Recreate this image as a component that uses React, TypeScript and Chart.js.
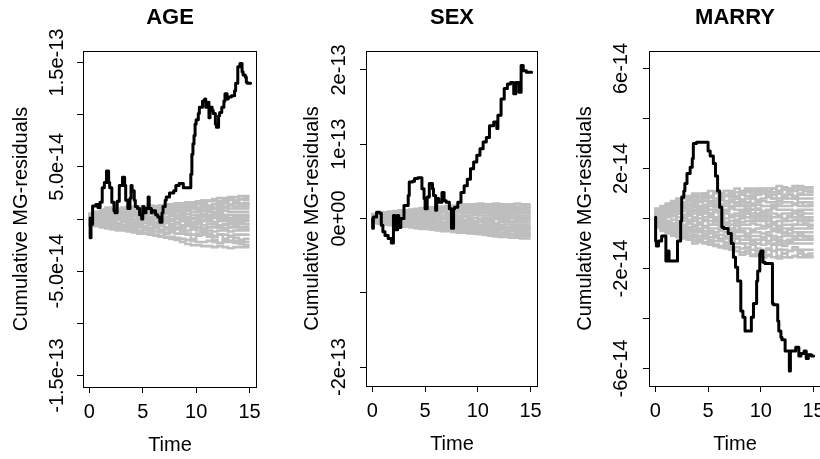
import React, { useEffect, useRef } from "react";
import { Chart, registerables } from "chart.js";
Chart.register(...registerables);

// values are stored in units of 1e-14
const UNIT = 1e-14;
const X_TICKS = [0, 5, 10, 15];
const X_TICK_LABELS = ["0", "5", "10", "15"];
const X_LABEL = "Time";
const Y_LABEL = "Cumulative MG-residuals";

const GRAY_TIMES = [0, 0.5, 1, 1.5, 2, 2.5, 3, 3.5, 4, 4.5, 5, 5.5, 6, 6.5, 7, 7.5, 8, 8.5, 9, 9.5, 10, 10.5, 11, 11.5, 12, 12.5, 13, 13.5, 14, 14.5, 15];

// ---------- AGE ----------
const AGE_TIMES = [0.07, 0.15, 0.3, 0.6, 0.8, 1.0, 1.2, 1.4, 1.6, 1.8, 1.9, 2.1, 2.3, 2.4, 2.6, 2.8, 3.1, 3.3, 3.4, 3.6, 3.8, 3.9, 4.0, 4.2, 4.3, 4.5, 4.7, 4.9, 5.0, 5.1, 5.3, 5.5, 5.6, 5.8, 5.9, 6.2, 6.4, 6.6, 6.8, 6.9, 7.1, 7.2, 7.5, 7.9, 8.1, 8.4, 8.8, 9.1, 9.5, 9.6, 9.7, 9.8, 9.9, 10.0, 10.2, 10.3, 10.6, 10.8, 10.9, 11.1, 11.2, 11.3, 11.5, 11.6, 11.8, 11.9, 12.1, 12.2, 12.4, 12.6, 12.7, 12.9, 13.0, 13.3, 13.6, 13.7, 13.9, 14.1, 14.3, 14.4, 14.6, 14.7, 14.8, 15.1];
const AGE_OBS = [0.1, -1.8, -0.5, 1.25, 1.4, 1.1, 1.6, 3.0, 3.5, 4.6, 3.5, 3.0, 1.6, 0.8, 0.6, 1.7, 3.2, 4.0, 3.2, 1.8, 1.0, 2.0, 3.2, 2.7, 1.8, 1.2, 1.0, 0.4, 0.0, 1.2, 0.6, 1.0, 2.1, 1.0, 0.6, 0.8, 0.4, 0.2, -0.3, 0.6, 1.2, 1.8, 2.1, 2.5, 2.7, 3.2, 3.4, 3.0, 3.0, 4.3, 6.2, 7.2, 8.0, 9.1, 9.5, 10.1, 10.7, 11.3, 11.5, 10.7, 11.2, 9.7, 10.7, 10.4, 10.1, 9.1, 8.8, 9.9, 10.2, 10.7, 11.3, 12.0, 11.5, 11.7, 11.8, 12.3, 13.0, 14.6, 14.9, 14.1, 13.8, 13.6, 13.1, 13.0];
const AGE_SIMS = [
  [0, 0.3, 0.5, 0.6, 0.6, 0.8, 0.9, 0.9, 1.0, 1.1, 1.1, 1.2, 1.3, 1.2, 1.3, 1.4, 1.4, 1.5, 1.5, 1.6, 1.6, 1.7, 1.8, 1.8, 1.9, 2.0, 2.0, 2.1, 2.1, 2.2, 2.2],
  [0, 0.5, 0.7, 0.8, 0.9, 0.9, 1.0, 1.1, 1.0, 1.1, 1.2, 1.2, 1.1, 1.2, 1.3, 1.3, 1.4, 1.4, 1.5, 1.5, 1.5, 1.6, 1.6, 1.7, 1.7, 1.7, 1.8, 1.8, 1.8, 1.9, 1.8],
  [0, 0.4, 0.6, 0.7, 0.8, 0.8, 0.9, 1.0, 1.0, 1.1, 1.0, 1.1, 1.1, 1.2, 1.2, 1.1, 1.2, 1.3, 1.3, 1.2, 1.3, 1.4, 1.4, 1.3, 1.4, 1.5, 1.5, 1.4, 1.5, 1.5, 1.5],
  [0, 0.2, 0.4, 0.6, 0.7, 0.7, 0.8, 0.8, 0.9, 0.9, 1.0, 0.9, 1.0, 1.0, 1.1, 1.0, 1.0, 1.1, 1.1, 1.2, 1.1, 1.1, 1.2, 1.2, 1.1, 1.2, 1.2, 1.3, 1.2, 1.2, 1.2],
  [0, 0.3, 0.5, 0.5, 0.6, 0.7, 0.7, 0.6, 0.7, 0.8, 0.8, 0.9, 0.8, 0.8, 0.9, 0.9, 1.0, 0.9, 0.9, 1.0, 1.0, 0.9, 1.0, 1.1, 1.0, 1.0, 1.1, 1.0, 1.0, 1.0, 1.0],
  [0, 0.4, 0.4, 0.5, 0.5, 0.6, 0.5, 0.6, 0.6, 0.7, 0.6, 0.6, 0.7, 0.7, 0.6, 0.7, 0.8, 0.7, 0.7, 0.8, 0.7, 0.7, 0.8, 0.8, 0.7, 0.7, 0.8, 0.7, 0.7, 0.7, 0.7],
  [0, 0.1, 0.3, 0.4, 0.4, 0.5, 0.4, 0.4, 0.5, 0.5, 0.4, 0.5, 0.5, 0.4, 0.4, 0.5, 0.5, 0.4, 0.5, 0.5, 0.4, 0.4, 0.5, 0.4, 0.4, 0.5, 0.4, 0.4, 0.4, 0.4, 0.4],
  [0, 0.2, 0.2, 0.3, 0.2, 0.3, 0.3, 0.2, 0.2, 0.3, 0.3, 0.2, 0.2, 0.3, 0.2, 0.2, 0.3, 0.2, 0.2, 0.2, 0.1, 0.2, 0.2, 0.3, 0.2, 0.2, 0.2, 0.1, 0.2, 0.2, 0.2],
  [0, 0.1, 0.0, 0.1, 0.1, 0.0, 0.1, 0.1, 0.0, 0.0, 0.1, 0.0, -0.1, 0.0, 0.0, 0.1, 0.0, 0.0, -0.1, 0.0, 0.0, 0.0, -0.1, 0.0, 0.1, 0.0, 0.0, -0.1, 0.0, 0.0, 0.0],
  [0, -0.1, 0.0, -0.1, -0.1, -0.2, -0.1, -0.1, -0.2, -0.2, -0.1, -0.2, -0.2, -0.3, -0.2, -0.2, -0.2, -0.3, -0.2, -0.2, -0.3, -0.2, -0.2, -0.2, -0.3, -0.2, -0.2, -0.2, -0.3, -0.2, -0.2],
  [0, -0.2, -0.2, -0.3, -0.3, -0.3, -0.4, -0.3, -0.4, -0.4, -0.5, -0.4, -0.4, -0.5, -0.5, -0.4, -0.5, -0.5, -0.6, -0.5, -0.5, -0.5, -0.6, -0.5, -0.5, -0.6, -0.5, -0.5, -0.5, -0.5, -0.5],
  [0, -0.3, -0.4, -0.4, -0.5, -0.5, -0.5, -0.6, -0.6, -0.6, -0.7, -0.7, -0.6, -0.7, -0.7, -0.8, -0.7, -0.8, -0.8, -0.7, -0.8, -0.8, -0.9, -0.8, -0.8, -0.8, -0.9, -0.8, -0.8, -0.8, -0.8],
  [0, -0.4, -0.5, -0.5, -0.6, -0.6, -0.7, -0.7, -0.8, -0.8, -0.8, -0.9, -0.9, -0.9, -1.0, -1.0, -0.9, -1.0, -1.0, -1.1, -1.0, -1.1, -1.1, -1.1, -1.2, -1.1, -1.1, -1.2, -1.1, -1.1, -1.1],
  [0, -0.5, -0.6, -0.6, -0.7, -0.8, -0.8, -0.9, -0.9, -1.0, -1.1, -1.1, -1.2, -1.2, -1.3, -1.3, -1.3, -1.4, -1.4, -1.4, -1.5, -1.4, -1.5, -1.5, -1.6, -1.5, -1.5, -1.6, -1.5, -1.5, -1.5],
  [0, -0.5, -0.6, -0.7, -0.8, -0.9, -1.0, -1.0, -1.1, -1.2, -1.3, -1.4, -1.4, -1.5, -1.6, -1.7, -1.7, -1.8, -1.9, -2.0, -2.1, -2.2, -2.2, -2.1, -2.2, -2.3, -2.2, -2.2, -2.3, -2.2, -2.2],
  [0, -0.6, -0.7, -0.8, -0.9, -1.0, -1.1, -1.1, -1.2, -1.3, -1.4, -1.4, -1.5, -1.6, -1.7, -1.8, -1.9, -2.0, -2.2, -2.4, -2.5, -2.5, -2.6, -2.6, -2.7, -2.6, -2.7, -2.8, -2.7, -2.7, -2.7],
  [0, 0.5, 0.3, 0.6, 0.4, 0.2, 0.5, 0.8, 0.6, 0.3, 0.1, 0.4, 0.7, 0.9, 1.2, 1.0, 0.7, 0.4, 0.6, 0.9, 1.3, 1.5, 1.2, 0.9, 0.6, 0.8, 1.1, 1.4, 1.6, 1.3, 1.4],
  [0, -0.3, 0.1, 0.4, 0.7, 0.5, 0.2, -0.2, -0.5, -0.3, 0.0, 0.3, 0.1, -0.3, -0.6, -0.9, -1.2, -0.9, -0.6, -0.3, 0.1, 0.4, 0.2, -0.2, -0.5, -0.8, -0.6, -0.3, -0.1, -0.4, -0.5],
  [0, 0.2, 0.6, 0.9, 1.1, 0.8, 0.6, 0.9, 1.2, 0.9, 0.5, 0.2, -0.2, -0.5, -0.3, 0.0, 0.4, 0.7, 0.4, 0.0, -0.4, -0.8, -1.1, -1.4, -1.7, -1.5, -1.9, -2.1, -1.8, -2.0, -1.9],
  [0, -0.4, -0.2, 0.0, -0.3, -0.6, -0.9, -0.7, -0.4, -0.1, 0.2, 0.5, 0.8, 0.6, 0.3, 0.6, 0.9, 1.2, 1.5, 1.3, 1.0, 0.7, 0.4, 0.7, 1.0, 1.3, 1.7, 1.9, 1.6, 1.9, 2.0],
  [0, 0.1, -0.2, -0.5, -0.3, 0.0, 0.3, 0.6, 0.3, 0.0, -0.3, -0.7, -1.0, -0.8, -1.1, -1.4, -1.1, -0.8, -1.2, -1.5, -1.9, -1.6, -1.3, -1.7, -2.0, -2.3, -2.0, -1.7, -2.1, -2.4, -2.5],
  [0, 0.3, 0.1, -0.1, 0.2, 0.5, 0.8, 1.0, 0.7, 0.4, 0.6, 0.9, 0.6, 0.3, 0.0, -0.3, -0.1, 0.2, 0.0, -0.3, -0.6, -0.4, -0.1, 0.2, 0.5, 0.3, 0.0, -0.3, -0.6, -0.9, -1.0],
];
const AGE_Y_TICKS = [-15, -10, -5, 0, 5, 10, 15];
const AGE_Y_LABELS = ["-1.5e-13", "", "-5.0e-14", "", "5.0e-14", "", "1.5e-13"];

// ---------- SEX ----------
const SEX_TIMES = [0.03, 0.1, 0.4, 0.7, 0.85, 1.0, 1.2, 1.5, 1.8, 2.0, 2.2, 2.4, 2.5, 2.7, 3.0, 3.4, 3.5, 3.8, 4.0, 4.3, 4.7, 4.9, 5.0, 5.2, 5.4, 5.7, 5.8, 6.0, 6.1, 6.3, 6.6, 6.8, 7.0, 7.3, 7.5, 7.7, 7.8, 8.1, 8.4, 8.7, 9.0, 9.3, 9.6, 9.9, 10.2, 10.5, 10.8, 11.1, 11.5, 11.8, 11.9, 12.2, 12.5, 12.8, 13.1, 13.4, 13.6, 13.9, 14.1, 14.3, 14.6, 14.8, 15.1];
const SEX_OBS = [0, -1.3, 0.2, 0.85, 0.7, -0.9, -1.8, -2.3, -2.7, -3.3, 0.4, -1.5, 0.4, -1.2, 0, 1.75, 3.1, 4.9, 5.0, 5.4, 5.5, 4.0, 2.7, 1.3, 2.9, 4.7, 4.0, 3.1, 1.1, 2.7, 2.2, 3.5, 2.4, 2.2, 1.3, -1.3, 1.3, 1.5, 2.2, 3.5, 4.4, 5.3, 6.7, 7.6, 8.5, 9.4, 10.3, 10.9, 12.5, 13.0, 12.1, 13.9, 16.1, 17.5, 18.1, 18.3, 16.8, 18.3, 17.0, 20.6, 19.9, 19.7, 19.7];
const SEX_SIMS = [
  [0, 0.5, 0.7, 0.8, 0.9, 1.0, 1.1, 1.1, 1.2, 1.3, 1.4, 1.4, 1.5, 1.6, 1.6, 1.7, 1.7, 1.8, 1.9, 1.9, 1.9, 2.0, 1.9, 1.9, 2.0, 1.9, 1.9, 1.9, 2.0, 1.9, 1.9],
  [0, 0.6, 0.8, 0.8, 0.9, 0.9, 1.0, 1.1, 1.1, 1.2, 1.2, 1.3, 1.3, 1.4, 1.4, 1.5, 1.5, 1.5, 1.6, 1.6, 1.7, 1.7, 1.6, 1.7, 1.7, 1.6, 1.6, 1.7, 1.6, 1.6, 1.6],
  [0, 0.4, 0.6, 0.7, 0.7, 0.8, 0.9, 0.9, 1.0, 1.0, 1.1, 1.1, 1.2, 1.2, 1.2, 1.3, 1.3, 1.3, 1.4, 1.3, 1.4, 1.4, 1.3, 1.3, 1.4, 1.3, 1.3, 1.3, 1.3, 1.3, 1.3],
  [0, 0.3, 0.5, 0.6, 0.6, 0.7, 0.7, 0.8, 0.8, 0.9, 0.9, 0.9, 1.0, 1.0, 1.0, 1.1, 1.0, 1.1, 1.1, 1.0, 1.1, 1.0, 1.0, 1.1, 1.0, 1.0, 1.0, 1.1, 1.0, 1.0, 1.0],
  [0, 0.2, 0.4, 0.4, 0.5, 0.5, 0.6, 0.6, 0.6, 0.7, 0.7, 0.6, 0.7, 0.7, 0.8, 0.7, 0.7, 0.8, 0.7, 0.7, 0.8, 0.7, 0.7, 0.7, 0.8, 0.7, 0.7, 0.7, 0.7, 0.7, 0.7],
  [0, 0.1, 0.2, 0.3, 0.3, 0.4, 0.3, 0.4, 0.4, 0.4, 0.5, 0.4, 0.4, 0.5, 0.4, 0.4, 0.5, 0.4, 0.4, 0.4, 0.5, 0.4, 0.4, 0.4, 0.3, 0.4, 0.4, 0.4, 0.4, 0.4, 0.4],
  [0, 0.1, 0.1, 0.2, 0.1, 0.2, 0.2, 0.1, 0.2, 0.1, 0.1, 0.2, 0.1, 0.1, 0.2, 0.1, 0.1, 0.1, 0.2, 0.1, 0.1, 0.0, 0.1, 0.1, 0.1, 0.2, 0.1, 0.1, 0.1, 0.1, 0.1],
  [0, 0.0, -0.1, 0.0, -0.1, -0.1, 0.0, -0.1, -0.1, -0.2, -0.1, -0.1, -0.2, -0.2, -0.1, -0.2, -0.2, -0.1, -0.2, -0.2, -0.3, -0.2, -0.2, -0.2, -0.1, -0.2, -0.2, -0.3, -0.2, -0.2, -0.2],
  [0, -0.1, -0.2, -0.2, -0.3, -0.3, -0.3, -0.4, -0.3, -0.4, -0.4, -0.4, -0.5, -0.4, -0.5, -0.5, -0.5, -0.4, -0.5, -0.5, -0.6, -0.5, -0.5, -0.5, -0.6, -0.5, -0.5, -0.5, -0.5, -0.5, -0.5],
  [0, -0.2, -0.3, -0.4, -0.4, -0.5, -0.5, -0.5, -0.6, -0.6, -0.6, -0.7, -0.7, -0.7, -0.7, -0.8, -0.8, -0.7, -0.8, -0.8, -0.8, -0.9, -0.8, -0.8, -0.8, -0.9, -0.8, -0.8, -0.8, -0.8, -0.8],
  [0, -0.3, -0.4, -0.5, -0.5, -0.6, -0.6, -0.7, -0.7, -0.8, -0.8, -0.8, -0.9, -0.9, -1.0, -1.0, -1.0, -1.0, -1.1, -1.1, -1.1, -1.1, -1.2, -1.1, -1.1, -1.1, -1.2, -1.1, -1.1, -1.1, -1.1],
  [0, -0.4, -0.5, -0.6, -0.6, -0.7, -0.7, -0.8, -0.9, -0.9, -1.0, -1.0, -1.1, -1.1, -1.2, -1.2, -1.2, -1.3, -1.3, -1.3, -1.4, -1.4, -1.3, -1.4, -1.4, -1.4, -1.5, -1.4, -1.4, -1.4, -1.4],
  [0, -0.5, -0.5, -0.6, -0.7, -0.8, -0.8, -0.9, -1.0, -1.0, -1.1, -1.1, -1.2, -1.3, -1.3, -1.4, -1.4, -1.5, -1.5, -1.5, -1.6, -1.6, -1.6, -1.7, -1.7, -1.6, -1.7, -1.7, -1.7, -1.7, -1.7],
  [0, -0.5, -0.6, -0.7, -0.8, -0.8, -0.9, -1.0, -1.0, -1.1, -1.2, -1.2, -1.3, -1.4, -1.4, -1.5, -1.6, -1.6, -1.7, -1.8, -1.8, -1.9, -1.9, -1.9, -2.0, -2.0, -2.0, -2.1, -2.0, -2.0, -2.0],
  [0, -0.6, -0.6, -0.7, -0.8, -0.9, -1.0, -1.1, -1.1, -1.2, -1.3, -1.3, -1.4, -1.5, -1.6, -1.6, -1.7, -1.8, -1.8, -1.9, -2.0, -2.0, -2.1, -2.1, -2.2, -2.2, -2.3, -2.2, -2.3, -2.3, -2.3],
  [0, -0.6, -0.7, -0.8, -0.9, -1.0, -1.1, -1.1, -1.2, -1.3, -1.4, -1.4, -1.5, -1.6, -1.7, -1.7, -1.8, -1.9, -1.9, -2.0, -2.0, -2.1, -2.2, -2.3, -2.4, -2.5, -2.5, -2.6, -2.6, -2.7, -2.7],
  [0, 0.4, 0.2, 0.5, 0.8, 0.6, 0.3, 0.6, 0.9, 1.2, 1.0, 0.7, 0.4, 0.7, 1.0, 1.3, 1.6, 1.4, 1.1, 0.8, 1.1, 1.4, 1.7, 1.5, 1.2, 1.5, 1.8, 1.6, 1.3, 1.5, 1.6],
  [0, -0.2, 0.1, 0.3, 0.0, -0.3, -0.6, -0.4, -0.1, 0.2, 0.5, 0.3, 0.0, -0.3, -0.6, -0.9, -0.7, -0.4, -0.7, -1.0, -1.3, -1.1, -0.8, -0.5, -0.8, -1.1, -1.4, -1.2, -0.9, -1.2, -1.3],
  [0, 0.3, 0.6, 0.4, 0.1, -0.2, 0.1, 0.4, 0.7, 0.5, 0.2, -0.1, -0.4, -0.2, 0.1, 0.4, 0.2, -0.1, -0.4, -0.7, -1.0, -1.3, -1.6, -1.4, -1.7, -2.0, -1.8, -2.1, -2.3, -2.0, -2.1],
  [0, -0.3, -0.5, -0.2, 0.1, 0.4, 0.2, 0.5, 0.8, 1.1, 0.9, 1.2, 1.5, 1.3, 1.0, 0.7, 1.0, 1.3, 1.1, 0.8, 0.5, 0.8, 1.1, 0.9, 0.6, 0.3, 0.6, 0.9, 1.2, 1.0, 0.9],
  [0, 0.1, -0.2, -0.4, -0.7, -0.5, -0.2, 0.1, -0.2, -0.5, -0.8, -0.6, -0.9, -1.2, -1.0, -0.7, -1.0, -1.3, -1.6, -1.4, -1.1, -1.4, -1.7, -1.5, -1.8, -2.1, -1.9, -2.2, -2.5, -2.3, -2.4],
  [0, 0.2, 0.4, 0.7, 0.5, 0.2, 0.5, 0.3, 0.0, 0.3, 0.6, 0.9, 0.7, 0.4, 0.1, 0.4, 0.7, 1.0, 1.3, 1.6, 1.4, 1.1, 0.8, 0.5, 0.2, -0.1, 0.2, 0.5, 0.3, 0.0, 0.1],
];
const SEX_Y_TICKS = [-20, -10, 0, 10, 20];
const SEX_Y_LABELS = ["-2e-13", "", "0e+00", "1e-13", "2e-13"];

// ---------- MARRY ----------
const MARRY_TIMES = [0.03, 0.1, 0.3, 0.6, 0.8, 1.0, 1.1, 1.3, 1.4, 2.1, 2.4, 2.5, 2.7, 2.8, 3.0, 3.3, 3.5, 3.6, 3.9, 4.4, 5.0, 5.2, 5.5, 5.7, 5.9, 6.1, 6.3, 6.5, 6.9, 7.2, 7.4, 7.6, 7.8, 8.1, 8.3, 8.5, 8.6, 9.1, 9.3, 9.6, 9.7, 9.9, 10.0, 10.2, 10.4, 10.6, 11.1, 11.2, 11.6, 11.7, 11.9, 12.0, 12.3, 12.7, 12.8, 13.0, 13.3, 13.6, 13.8, 14.1, 14.3, 14.5, 14.8, 15.0];
const MARRY_OBS = [0.05, -0.9, -1.1, -0.9, -0.7, -0.7, -1.7, -1.3, -1.7, -1.7, -0.9, -0.1, 0.85, 1.1, 1.4, 1.8, 2.05, 2.4, 3.0, 3.05, 3.05, 2.7, 2.5, 2.2, 1.7, 1.1, 0.45, -0.35, -0.4, -0.6, -1.0, -1.55, -1.95, -2.5, -3.7, -3.95, -4.5, -4.5, -3.95, -3.4, -2.5, -2.1, -1.4, -1.3, -1.75, -1.8, -1.8, -3.4, -3.45, -4.1, -4.5, -4.75, -4.85, -5.3, -6.1, -5.3, -5.3, -5.15, -5.5, -5.4, -5.3, -5.6, -5.45, -5.5];
const MARRY_SIMS = [
  [0, 0.4, 0.5, 0.6, 0.7, 0.8, 0.9, 0.9, 1.0, 1.0, 1.0, 1.1, 1.1, 1.0, 1.1, 1.1, 1.2, 1.1, 1.2, 1.2, 1.2, 1.1, 1.2, 1.2, 1.3, 1.2, 1.2, 1.3, 1.2, 1.25, 1.25],
  [0, 0.35, 0.45, 0.55, 0.6, 0.7, 0.8, 0.8, 0.85, 0.9, 0.95, 0.9, 1.0, 1.0, 0.95, 1.0, 1.05, 1.0, 1.05, 1.1, 1.05, 1.1, 1.1, 1.05, 1.1, 1.15, 1.1, 1.1, 1.15, 1.1, 1.1],
  [0, 0.3, 0.4, 0.5, 0.55, 0.6, 0.65, 0.7, 0.75, 0.7, 0.8, 0.85, 0.8, 0.85, 0.9, 0.85, 0.9, 0.95, 0.9, 0.9, 0.95, 1.0, 0.95, 0.95, 1.0, 0.95, 0.95, 0.9, 0.95, 0.95, 0.95],
  [0, 0.25, 0.35, 0.4, 0.5, 0.5, 0.55, 0.6, 0.6, 0.65, 0.7, 0.65, 0.7, 0.75, 0.7, 0.75, 0.8, 0.75, 0.8, 0.8, 0.75, 0.8, 0.85, 0.8, 0.8, 0.85, 0.8, 0.8, 0.8, 0.8, 0.8],
  [0, 0.2, 0.3, 0.35, 0.4, 0.45, 0.45, 0.5, 0.55, 0.5, 0.55, 0.6, 0.6, 0.55, 0.6, 0.65, 0.6, 0.65, 0.65, 0.6, 0.65, 0.7, 0.65, 0.65, 0.7, 0.65, 0.65, 0.6, 0.65, 0.65, 0.65],
  [0, 0.2, 0.25, 0.3, 0.3, 0.35, 0.4, 0.4, 0.45, 0.4, 0.45, 0.5, 0.45, 0.5, 0.5, 0.45, 0.5, 0.55, 0.5, 0.5, 0.55, 0.5, 0.5, 0.55, 0.5, 0.5, 0.5, 0.55, 0.5, 0.5, 0.5],
  [0, 0.15, 0.2, 0.2, 0.25, 0.25, 0.3, 0.3, 0.3, 0.35, 0.3, 0.35, 0.35, 0.3, 0.35, 0.4, 0.35, 0.35, 0.4, 0.35, 0.35, 0.3, 0.35, 0.4, 0.35, 0.35, 0.35, 0.3, 0.35, 0.35, 0.35],
  [0, 0.1, 0.1, 0.15, 0.15, 0.2, 0.15, 0.2, 0.2, 0.25, 0.2, 0.2, 0.25, 0.2, 0.2, 0.15, 0.2, 0.25, 0.2, 0.2, 0.2, 0.25, 0.2, 0.2, 0.15, 0.2, 0.2, 0.2, 0.25, 0.2, 0.2],
  [0, 0.05, 0.0, 0.05, 0.1, 0.05, 0.05, 0.1, 0.05, 0.0, 0.05, 0.1, 0.05, 0.05, 0.0, 0.05, 0.1, 0.05, 0.05, 0.0, 0.05, 0.05, 0.1, 0.05, 0.05, 0.0, 0.05, 0.05, 0.05, 0.05, 0.05],
  [0, -0.05, -0.05, -0.1, -0.05, -0.1, -0.1, -0.05, -0.1, -0.15, -0.1, -0.1, -0.05, -0.1, -0.15, -0.1, -0.1, -0.15, -0.1, -0.1, -0.05, -0.1, -0.1, -0.15, -0.1, -0.1, -0.1, -0.05, -0.1, -0.1, -0.1],
  [0, -0.1, -0.15, -0.15, -0.2, -0.2, -0.25, -0.2, -0.25, -0.25, -0.3, -0.25, -0.25, -0.3, -0.25, -0.25, -0.3, -0.25, -0.25, -0.2, -0.25, -0.3, -0.25, -0.25, -0.3, -0.25, -0.25, -0.25, -0.25, -0.25, -0.25],
  [0, -0.15, -0.2, -0.25, -0.25, -0.3, -0.3, -0.35, -0.35, -0.4, -0.35, -0.4, -0.4, -0.45, -0.4, -0.4, -0.45, -0.4, -0.4, -0.45, -0.4, -0.4, -0.35, -0.4, -0.45, -0.4, -0.4, -0.4, -0.4, -0.4, -0.4],
  [0, -0.2, -0.25, -0.3, -0.35, -0.35, -0.4, -0.4, -0.45, -0.45, -0.5, -0.5, -0.55, -0.5, -0.55, -0.6, -0.55, -0.55, -0.6, -0.55, -0.55, -0.6, -0.55, -0.5, -0.55, -0.55, -0.6, -0.55, -0.55, -0.55, -0.55],
  [0, -0.25, -0.3, -0.35, -0.4, -0.45, -0.45, -0.5, -0.55, -0.55, -0.6, -0.6, -0.65, -0.65, -0.7, -0.65, -0.7, -0.7, -0.75, -0.7, -0.7, -0.75, -0.7, -0.7, -0.75, -0.7, -0.7, -0.7, -0.7, -0.7, -0.7],
  [0, -0.3, -0.35, -0.45, -0.5, -0.55, -0.55, -0.6, -0.65, -0.7, -0.7, -0.75, -0.75, -0.8, -0.8, -0.85, -0.8, -0.85, -0.85, -0.9, -0.85, -0.85, -0.9, -0.85, -0.85, -0.9, -0.85, -0.85, -0.85, -0.85, -0.85],
  [0, -0.3, -0.4, -0.5, -0.55, -0.6, -0.65, -0.7, -0.75, -0.8, -0.8, -0.85, -0.9, -0.9, -0.95, -0.95, -1.0, -1.0, -1.0, -1.05, -1.0, -1.05, -1.0, -1.0, -1.05, -1.0, -1.0, -1.0, -1.0, -1.0, -1.0],
  [0, -0.35, -0.45, -0.55, -0.6, -0.7, -0.75, -0.8, -0.85, -0.9, -0.95, -1.0, -1.05, -1.1, -1.1, -1.15, -1.15, -1.2, -1.2, -1.25, -1.3, -1.25, -1.25, -1.3, -1.25, -1.25, -1.3, -1.25, -1.25, -1.25, -1.25],
  [0, -0.35, -0.5, -0.6, -0.7, -0.75, -0.8, -0.85, -0.9, -0.95, -1.0, -1.05, -1.1, -1.15, -1.2, -1.25, -1.3, -1.35, -1.4, -1.45, -1.5, -1.55, -1.5, -1.55, -1.6, -1.55, -1.55, -1.5, -1.55, -1.55, -1.55],
  [0, 0.2, 0.35, 0.2, 0.4, 0.6, 0.45, 0.3, 0.5, 0.7, 0.85, 0.7, 0.55, 0.75, 0.9, 1.05, 0.9, 0.75, 0.6, 0.8, 0.95, 1.1, 0.95, 0.8, 1.0, 1.15, 1.0, 0.85, 1.0, 1.1, 1.05],
  [0, -0.15, 0.05, 0.25, 0.1, -0.1, -0.3, -0.15, 0.05, 0.25, 0.4, 0.2, 0.0, -0.2, -0.4, -0.25, -0.05, 0.15, 0.35, 0.55, 0.4, 0.2, 0.0, -0.2, -0.4, -0.6, -0.45, -0.25, -0.05, -0.2, -0.3],
  [0, 0.1, -0.1, -0.3, -0.2, -0.4, -0.6, -0.45, -0.3, -0.5, -0.7, -0.55, -0.75, -0.9, -0.75, -0.6, -0.8, -1.0, -1.15, -1.0, -1.2, -1.35, -1.2, -1.05, -1.25, -1.4, -1.3, -1.15, -1.3, -1.45, -1.4],
  [0, 0.25, 0.4, 0.55, 0.4, 0.2, 0.0, 0.2, 0.35, 0.15, -0.05, -0.25, -0.1, 0.1, 0.3, 0.5, 0.65, 0.5, 0.3, 0.1, -0.1, 0.1, 0.3, 0.45, 0.6, 0.8, 0.95, 0.8, 0.65, 0.5, 0.55],
  [0, -0.25, -0.35, -0.2, -0.4, -0.55, -0.4, -0.2, 0.0, -0.2, -0.35, -0.55, -0.7, -0.85, -0.7, -0.5, -0.3, -0.5, -0.7, -0.85, -1.0, -0.85, -0.65, -0.8, -0.95, -1.1, -0.95, -0.8, -0.6, -0.75, -0.8],
  [0, 0.05, 0.2, 0.4, 0.6, 0.75, 0.6, 0.8, 0.65, 0.45, 0.25, 0.05, -0.15, 0.0, -0.2, -0.4, -0.2, 0.0, 0.2, 0.35, 0.15, -0.05, -0.25, -0.45, -0.3, -0.1, 0.1, 0.3, 0.15, 0.0, -0.05],
  [0, -0.1, -0.25, -0.45, -0.6, -0.5, -0.7, -0.85, -1.0, -0.85, -0.7, -0.9, -1.05, -1.15, -1.0, -1.15, -1.3, -1.45, -1.3, -1.5, -1.4, -1.55, -1.45, -1.3, -1.5, -1.4, -1.55, -1.5, -1.4, -1.5, -1.5],
  [0, 0.3, 0.15, 0.35, 0.55, 0.4, 0.6, 0.8, 0.95, 0.8, 1.0, 0.85, 1.05, 0.9, 1.1, 0.95, 0.8, 1.0, 1.15, 1.0, 1.15, 1.2, 1.05, 1.2, 1.1, 1.25, 1.15, 1.2, 1.3, 1.2, 1.2],
];
const MARRY_Y_TICKS = [-6, -4, -2, 0, 2, 4, 6];
const MARRY_Y_LABELS = ["-6e-14", "", "-2e-14", "", "2e-14", "", "6e-14"];

// ---------- panel layout (styles / positions only) ----------
const FONT = '"Liberation Sans", Arial, Helvetica, sans-serif';
const PANELS = [
  {
    title: "AGE", times: AGE_TIMES, obs: AGE_OBS, sims: AGE_SIMS, yTicks: AGE_Y_TICKS, yLabels: AGE_Y_LABELS,
    yLim: 16.1, left: 0, width: 273, pad: { left: 77, right: 16, top: 51, bottom: 66 }, yTickLabelOff: 26, yTitleOff: 62,
  },
  {
    title: "SEX", times: SEX_TIMES, obs: SEX_OBS, sims: SEX_SIMS, yTicks: SEX_Y_TICKS, yLabels: SEX_Y_LABELS,
    yLim: 22.55, left: 273, width: 274, pad: { left: 87, right: 9, top: 51, bottom: 67 }, yTickLabelOff: 27, yTitleOff: 54,
  },
  {
    title: "MARRY", times: MARRY_TIMES, obs: MARRY_OBS, sims: MARRY_SIMS, yTicks: MARRY_Y_TICKS, yLabels: MARRY_Y_LABELS,
    yLim: 6.7, left: 547, width: 300, pad: { left: 96, right: 26, top: 51, bottom: 67 }, yTickLabelOff: 28, yTitleOff: 64,
  },
];

function makeChart(canvas: HTMLCanvasElement, p: any) {
  const datasets: any[] = [];
  datasets.push({
    data: p.times.map((t: number, i: number) => ({ x: t, y: p.obs[i] * UNIT })),
    borderColor: "#000000",
    borderWidth: 3,
    stepped: "after",
    pointRadius: 0,
    borderCapStyle: "round",
    borderJoinStyle: "round",
  });
  p.sims.forEach((s: number[]) => {
    datasets.push({
      data: GRAY_TIMES.map((t, i) => ({ x: t, y: s[i] * UNIT })),
      borderColor: "#BEBEBE",
      borderWidth: 2.6,
      stepped: "after",
      pointRadius: 0,
    });
  });

  const decor = {
    id: "decor",
    afterDraw(chart: any) {
      const ctx = chart.ctx;
      const a = chart.chartArea;
      const xs = chart.scales.x;
      const ys = chart.scales.y;
      ctx.save();
      ctx.strokeStyle = "#000";
      ctx.lineWidth = 1;
      ctx.strokeRect(Math.round(a.left) + 0.5, Math.round(a.top) + 0.5, Math.round(a.right - a.left) - 1, Math.round(a.bottom - a.top));
      ctx.fillStyle = "#000";
      ctx.font = `bold 22px ${FONT}`;
      ctx.textAlign = "center";
      ctx.textBaseline = "middle";
      const cx = (a.left + a.right) / 2;
      ctx.fillText(p.title, cx, 18);
      ctx.font = `20px ${FONT}`;
      X_TICKS.forEach((v, i) => {
        ctx.fillText(X_TICK_LABELS[i], xs.getPixelForValue(v), a.bottom + 25);
      });
      ctx.fillText(X_LABEL, cx, a.bottom + 58);
      p.yTicks.forEach((v: number, i: number) => {
        const lab = p.yLabels[i];
        if (!lab) return;
        ctx.save();
        ctx.translate(a.left - p.yTickLabelOff, ys.getPixelForValue(v * UNIT));
        ctx.rotate(-Math.PI / 2);
        ctx.fillText(lab, 0, 0);
        ctx.restore();
      });
      ctx.save();
      ctx.translate(a.left - p.yTitleOff, (a.top + a.bottom) / 2);
      ctx.rotate(-Math.PI / 2);
      ctx.fillText(Y_LABEL, 0, 0);
      ctx.restore();
      ctx.restore();
    },
  };

  return new Chart(canvas, {
    type: "line",
    data: { datasets },
    options: {
      animation: false,
      responsive: false,
      maintainAspectRatio: false,
      devicePixelRatio: 1,
      events: [],
      layout: { padding: p.pad },
      plugins: { legend: { display: false }, tooltip: { enabled: false }, title: { display: false } },
      scales: {
        x: {
          type: "linear",
          min: -0.6,
          max: 15.7,
          afterBuildTicks: (s: any) => { s.ticks = X_TICKS.map((v) => ({ value: v })); },
          ticks: { display: false },
          grid: { display: true, drawOnChartArea: false, drawTicks: true, tickLength: 6, color: "#000", lineWidth: 1 },
          border: { display: false },
        },
        y: {
          type: "linear",
          min: -p.yLim * UNIT,
          max: p.yLim * UNIT,
          afterBuildTicks: (s: any) => { s.ticks = p.yTicks.map((v: number) => ({ value: v * UNIT })); },
          ticks: { display: false },
          grid: { display: true, drawOnChartArea: false, drawTicks: true, tickLength: 6, color: "#000", lineWidth: 1 },
          border: { display: false },
        },
      },
    } as any,
    plugins: [decor],
  });
}

export default function App() {
  const refs = [useRef<HTMLCanvasElement>(null), useRef<HTMLCanvasElement>(null), useRef<HTMLCanvasElement>(null)];
  useEffect(() => {
    const charts = PANELS.map((p, i) => makeChart(refs[i].current as HTMLCanvasElement, p));
    return () => charts.forEach((c) => c.destroy());
  }, []);
  return (
    <div style={{ position: "fixed", left: 0, top: 0, width: 820, height: 459, overflow: "hidden", background: "#fff" }}>
      {PANELS.map((p, i) => (
        <canvas
          key={p.title}
          ref={refs[i]}
          width={p.width}
          height={459}
          style={{ position: "absolute", left: p.left, top: 0, width: p.width, height: 459 }}
        />
      ))}
    </div>
  );
}
